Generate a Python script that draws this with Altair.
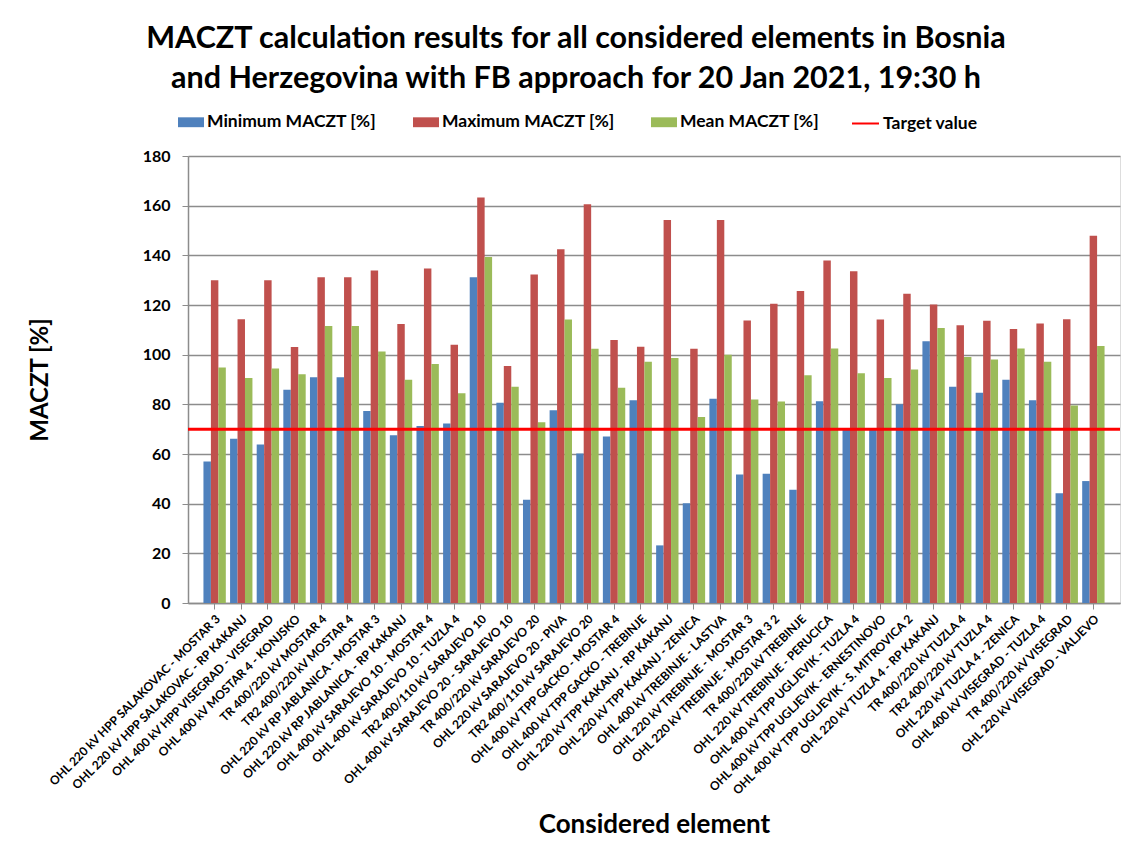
import altair as alt
import pandas as pd

elements = [
    "OHL 220 kV HPP SALAKOVAC - MOSTAR 3",
    "OHL 220 kV HPP SALAKOVAC - RP KAKANJ",
    "OHL 400 kV HPP VISEGRAD - VISEGRAD",
    "OHL 400 kV MOSTAR 4 - KONJSKO",
    "TR 400/220 kV MOSTAR 4",
    "TR2 400/220 kV MOSTAR 4",
    "OHL 220 kV RP JABLANICA - MOSTAR 3",
    "OHL 220 kV RP JABLANICA - RP KAKANJ",
    "OHL 400 kV SARAJEVO 10 - MOSTAR 4",
    "OHL 400 kV SARAJEVO 10 - TUZLA 4",
    "TR2 400/110 kV SARAJEVO 10",
    "OHL 400 kV SARAJEVO 20 - SARAJEVO 10",
    "TR 400/220 kV SARAJEVO 20",
    "OHL 220 kV SARAJEVO 20 - PIVA",
    "TR2 400/110 kV SARAJEVO 20",
    "OHL 400 kV TPP GACKO - MOSTAR 4",
    "OHL 400 kV TPP GACKO - TREBINJE",
    "OHL 220 kV TPP KAKANJ - RP KAKANJ",
    "OHL 220 kV TPP KAKANJ - ZENICA",
    "OHL 400 kV TREBINJE - LASTVA",
    "OHL 220 kV TREBINJE - MOSTAR 3",
    "OHL 220 kV TREBINJE - MOSTAR 3 2",
    "TR 400/220 kV TREBINJE",
    "OHL 220 kV TREBINJE - PERUCICA",
    "OHL 400 kV TPP UGLJEVIK - TUZLA 4",
    "OHL 400 kV TPP UGLJEVIK - ERNESTINOVO",
    "OHL 400 kV TPP UGLJEVIK - S. MITROVICA 2",
    "OHL 220 kV TUZLA 4 - RP KAKANJ",
    "TR 400/220 kV TUZLA 4",
    "TR2 400/220 kV TUZLA 4",
    "OHL 220 kV TUZLA 4 - ZENICA",
    "OHL 400 kV VISEGRAD - TUZLA 4",
    "TR 400/220 kV VISEGRAD",
    "OHL 220 kV VISEGRAD - VALJEVO",
]

min_vals = [57.0, 66.1, 63.8, 85.9, 90.9, 90.9, 77.3, 67.6, 71.3, 72.3,
            131.2, 80.6, 41.6, 77.6, 60.2, 67.0, 81.6, 23.2, 40.2, 82.2,
            51.7, 52.0, 45.6, 81.2, 70.0, 70.0, 80.0, 105.4, 87.1, 84.7,
            89.9, 81.6, 44.2, 49.1]
max_vals = [130.0, 114.3, 130.0, 103.1, 131.2, 131.2, 133.9, 112.3, 134.7, 104.0,
            163.3, 95.4, 132.3, 142.5, 160.6, 105.9, 103.2, 154.2, 102.4, 154.2,
            113.8, 120.5, 125.6, 137.9, 133.6, 114.2, 124.5, 120.2, 111.8, 113.7,
            110.3, 112.6, 114.3, 147.9]
mean_vals = [94.8, 90.6, 94.4, 92.1, 111.5, 111.5, 101.3, 89.9, 96.2, 84.5,
             139.3, 87.1, 72.8, 114.2, 102.4, 86.7, 97.1, 98.7, 74.9, 100.0,
             81.9, 81.1, 91.7, 102.5, 92.5, 90.6, 94.0, 110.7, 99.1, 98.1,
             102.5, 97.1, 79.5, 103.5]

series_names = ["Minimum MACZT [%]", "Maximum MACZT [%]", "Mean MACZT [%]"]
series_colors = ["#4F81BD", "#C0504D", "#9BBB59"]
target_names = ["Target value"]
target_values = [70]
y_ticks = [0, 20, 40, 60, 80, 100, 120, 140, 160, 180]

rows = []
for i, e in enumerate(elements):
    for s, vals in zip(series_names, [min_vals, max_vals, mean_vals]):
        rows.append({"element": e, "series": s, "value": vals[i]})
df = pd.DataFrame(rows)
tdf = pd.DataFrame({"name": target_names, "value": target_values})

FONT = "Lato"
GRID = "#8c8c8c"

bars = alt.Chart(df).mark_bar().encode(
    x=alt.X(
        "element:N",
        sort=elements,
        scale=alt.Scale(paddingInner=0.16, paddingOuter=0.58),
        axis=alt.Axis(
            title="Considered element",
            labelAngle=-45,
            labelFont=FONT,
            labelFontSize=12,
            labelFontWeight="bold",
            labelColor="black",
            labelLimit=400,
            labelPadding=4,
            tickColor=GRID,
            tickSize=6,
            domainColor=GRID,
            domainWidth=1.5,
            titleFont=FONT,
            titleFontSize=26,
            titleFontWeight="bold",
            titleColor="black",
            titleY=229,
            titleBaseline="alphabetic",
        ),
    ),
    xOffset=alt.XOffset("series:N", sort=series_names,
                        scale=alt.Scale(domain=series_names, paddingInner=0, paddingOuter=0)),
    y=alt.Y(
        "value:Q",
        scale=alt.Scale(domain=[0, 180], nice=False),
        axis=alt.Axis(
            values=y_ticks,
            title="MACZT [%]",
            labelFont=FONT,
            labelFontSize=16,
            labelFontWeight="bold",
            labelColor="black",
            labelPadding=12,
            tickColor=GRID,
            tickSize=6,
            domainColor=GRID,
            domainWidth=1.5,
            gridColor=GRID,
            gridWidth=1.3,
            titleFont=FONT,
            titleFontSize=24,
            titleFontWeight="bold",
            titleColor="black",
            titleAngle=-90,
            titleX=-148,
            titleY=223.5,
            titleAlign="center",
            titleBaseline="middle",
        ),
    ),
    color=alt.Color(
        "series:N",
        sort=series_names,
        scale=alt.Scale(domain=series_names, range=series_colors),
        legend=alt.Legend(
            title=None,
            orient="none",
            direction="horizontal",
            legendX=-10,
            legendY=-47,
            symbolType="M-1,-0.38H1V0.38H-1Z",
            symbolSize=676,
            symbolStrokeWidth=0,
            labelFont=FONT,
            labelFontSize=17.5,
            labelFontWeight="bold",
            labelColor="black",
            labelOffset=3,
            columnPadding=36,
            labelLimit=400,
            padding=0,
        ),
    ),
)

rule = alt.Chart(tdf).mark_rule(strokeWidth=3).encode(
    y=alt.Y("value:Q"),
    stroke=alt.Stroke(
        "name:N",
        scale=alt.Scale(domain=target_names, range=["#FF0000"]),
        legend=alt.Legend(
            title=None,
            orient="none",
            direction="horizontal",
            legendX=663,
            legendY=-47,
            symbolType="stroke",
            symbolSize=729,
            symbolStrokeWidth=2,
            labelFont=FONT,
            labelFontSize=17.5,
            labelFontWeight="bold",
            labelColor="black",
            labelOffset=3,
            labelLimit=400,
            padding=0,
        ),
    ),
)

chart = alt.layer(bars, rule).properties(
    width=932,
    height=447,
    autosize=alt.AutoSizeParams(type="none"),
    padding={"left": 180, "top": 148, "right": 9, "bottom": 241},
    title=alt.TitleParams(
        text=[
            "MACZT calculation results for all considered elements in Bosnia",
            "and Herzegovina with FB approach for 20 Jan 2021, 19:30 h",
        ],
        font=FONT,
        fontSize=30.5,
        fontWeight="bold",
        color="black",
        anchor="middle",
        dx=-78,
        offset=15,
        lineHeight=40,
    ),
).configure_view(stroke=None).configure(background="white")

chart.save("out.html", embed_options={"renderer": "svg", "actions": False})
